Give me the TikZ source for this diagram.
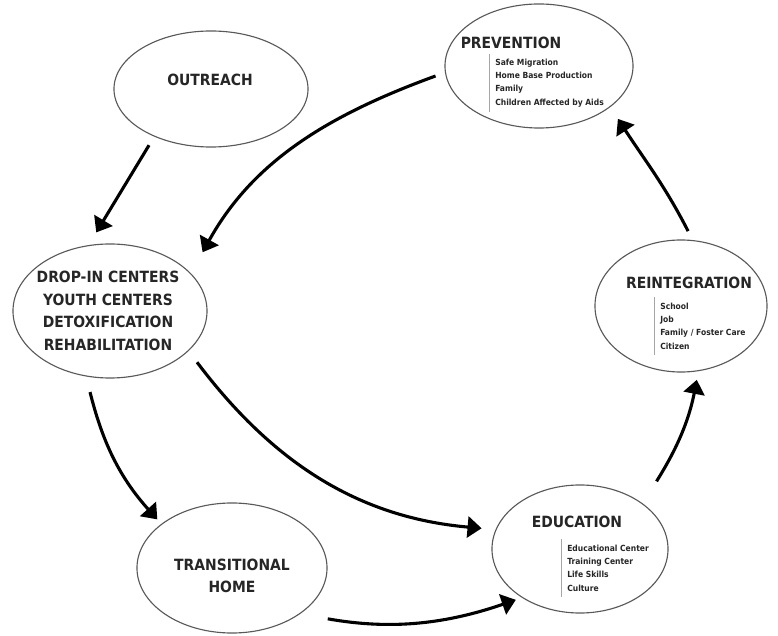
\documentclass[tikz,border=0pt]{standalone}
\usepackage{fontspec}
\setmainfont{DejaVu Sans Condensed}
\usepackage{tikz}
\usetikzlibrary{positioning, arrows.meta, shapes.geometric}

\tikzset{
  stage/.style={ellipse, draw=black!65, line width=0.8pt, inner sep=0pt},
  heading/.style={font=\bfseries\fontsize{11}{16}\selectfont, text=black!85, align=center, inner sep=0pt},
  items/.style={font=\bfseries\fontsize{6}{9.5}\selectfont, text=black!85, align=left, anchor=west, inner xsep=0.15cm, inner ysep=3.5pt},
  listbar/.style={draw=black!35, line width=0.6pt},
  flow/.style={-{Triangle[length=10pt,width=15pt]}, line width=2.2pt},
}

\begin{document}
\begin{tikzpicture}[x=0.025cm, y=0.025cm]
\useasboundingbox (0,0) rectangle (778,-636);
% Ellipses
\node[stage, minimum width=4.85cm, minimum height=2.9cm] (outreach) at (211,-89) {};
\node[stage, minimum width=4.7cm, minimum height=3.1cm] (prevention) at (539,-66) {};
\node[stage, minimum width=4.85cm, minimum height=3.35cm] (dropin) at (110,-311) {};
\node[stage, minimum width=4.3cm, minimum height=3.3cm] (reintegration) at (681,-306) {};
\node[stage, minimum width=4.4cm, minimum height=3.2cm] (education) at (580,-549) {};
\node[stage, minimum width=4.75cm, minimum height=3.25cm] (transition) at (232,-568) {};
% Headings
\node[heading] (outreach-t) at (210,-80) {OUTREACH};
\node[heading] (prevention-t) at (511,-43) {PREVENTION};
\node[heading] (dropin-t) at (108,-311) {DROP-IN CENTERS\\YOUTH CENTERS\\DETOXIFICATION\\REHABILITATION};
\node[heading] (reintegration-t) at (689,-283) {REINTEGRATION};
\node[heading] (education-t) at (577,-522) {EDUCATION};
\node[heading] (transition-t) at (232,-576) {TRANSITIONAL\\HOME};
% Lists
\node[items] (prevention-l) at (489,-83) {Safe Migration\\Home Base Production\\Family\\Children Affected by Aids};
\node[items] (reintegration-l) at (654,-326) {School\\Job\\Family / Foster Care\\Citizen};
\node[items] (education-l) at (561,-568) {Educational Center\\Training Center\\Life Skills\\Culture};
\foreach \l in {prevention-l, reintegration-l, education-l}
  \draw[listbar] (\l.north west) -- (\l.south west);
% Arrows
\draw[flow, shorten <=0.25cm, shorten >=0.37cm] (outreach.220) -- (dropin.108);
\draw[flow, shorten <=0.25cm, shorten >=0.6cm] (prevention.184) to[out=200, in=61] (dropin.25);
\draw[flow, shorten <=0.4cm, shorten >=0.15cm] (dropin.250) to[out=284, in=132] (transition.148);
\draw[flow, shorten <=0.35cm, shorten >=0.35cm] (dropin.333) to[out=307, in=175] (education.167);
\draw[flow, shorten <=0.7cm, shorten >=0.16cm] (transition.326) to[out=350, in=199] (education.220);
\draw[flow, shorten <=0.65cm, shorten >=0.22cm] (education.36) to[out=58, in=259] (reintegration.285);
\draw[flow, shorten <=0.25cm, shorten >=0.35cm] (reintegration.80) to[out=117, in=303] (prevention.330);
\end{tikzpicture}
\end{document}
